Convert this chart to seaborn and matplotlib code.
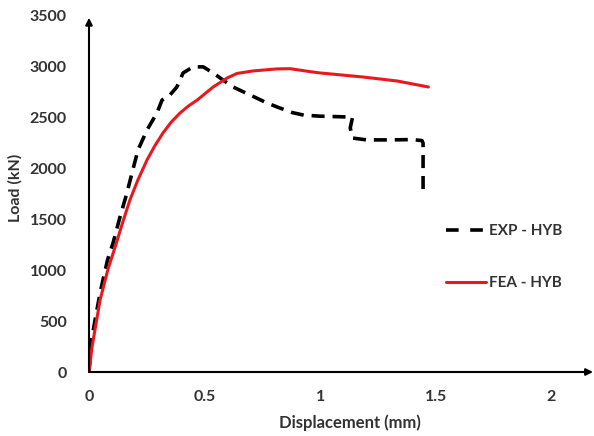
import numpy as np
import pandas as pd
import matplotlib
matplotlib.use("Agg")
import matplotlib.pyplot as plt
import seaborn as sns

# Data
exp_x = [0, 0.01, 0.03, 0.05, 0.08, 0.104, 0.134, 0.164, 0.186, 0.212, 0.251, 0.294,
         0.316, 0.35, 0.38, 0.407, 0.45, 0.494, 0.537, 0.58, 0.623, 0.70, 0.77, 0.82,
         0.88, 0.93, 1.0, 1.08, 1.14, 1.13, 1.14, 1.2, 1.3, 1.4, 1.44, 1.445, 1.445]
exp_y = [0, 300, 560, 800, 1100, 1268, 1524, 1760, 1957, 2183, 2380, 2547,
         2674, 2723, 2802, 2940, 3000, 3000, 2940, 2870, 2802, 2720, 2645, 2600,
         2550, 2525, 2515, 2510, 2505, 2400, 2300, 2282, 2282, 2285, 2275, 2250, 1790]
fea_x = [0, 0.013, 0.048, 0.082, 0.113, 0.147, 0.177, 0.21, 0.251, 0.285, 0.32, 0.355,
         0.394, 0.43, 0.468, 0.537, 0.597, 0.64, 0.71, 0.814, 0.87, 0.95, 1.0, 1.186,
         1.333, 1.468]
fea_y = [0, 245, 708, 1010, 1229, 1480, 1691, 1880, 2085, 2225, 2350, 2455,
         2547, 2615, 2674, 2802, 2890, 2935, 2960, 2980, 2982, 2955, 2940, 2900,
         2861, 2802]
x_ticks = [0, 0.5, 1, 1.5, 2]
x_tick_labels = ["0", "0.5", "1", "1.5", "2"]
y_ticks = [0, 500, 1000, 1500, 2000, 2500, 3000, 3500]
series_names = ["EXP - HYB", "FEA - HYB"]

sns.set_style("white")
plt.rcParams['font.family'] = ['Lato', 'DejaVu Sans']
txt_color = "#333333"

fig = plt.figure(figsize=(5.94, 4.36), dpi=100)
ax = fig.add_axes([89/594, 1-372/436, 504/594, 356/436])

exp_df = pd.DataFrame({"x": exp_x, "y": exp_y})
fea_df = pd.DataFrame({"x": fea_x, "y": fea_y})

sns.lineplot(data=exp_df, x="x", y="y", sort=False, estimator=None, ax=ax,
             color="black", lw=2.6, label=series_names[0], dashes=False)
ax.lines[-1].set_dashes((3.6, 2.2))
sns.lineplot(data=fea_df, x="x", y="y", sort=False, estimator=None, ax=ax,
             color="#e8191e", lw=2.2, label=series_names[1])

ax.set_xlim(0, 2.18)
ax.set_ylim(0, 3500)
ax.set_xticks(x_ticks)
ax.set_xticklabels(x_tick_labels)
ax.set_yticks(y_ticks)
for s in ax.spines.values():
    s.set_visible(False)
ax.tick_params(axis='both', length=0, labelsize=11.5, labelcolor=txt_color)
ax.tick_params(axis='x', pad=13)
ax.tick_params(axis='y', pad=16)
for lab in ax.get_xticklabels() + ax.get_yticklabels():
    lab.set_fontweight('bold')

ax.annotate('', xy=(1.0, 0), xytext=(0, 0), xycoords='axes fraction',
            arrowprops=dict(arrowstyle='-|>', color='black', lw=1.5,
                            shrinkA=0, shrinkB=0, mutation_scale=10))
ax.annotate('', xy=(0, 0.995), xytext=(0, 0), xycoords='axes fraction',
            arrowprops=dict(arrowstyle='-|>', color='black', lw=1.5,
                            shrinkA=0, shrinkB=0, mutation_scale=10))

ax.set_xlabel("Displacement (mm)", fontsize=12, fontweight='bold', color=txt_color,
              va='center')
ax.set_ylabel("Load (kN)", fontsize=11.5, fontweight='bold', color=txt_color,
              va='center')
ax.xaxis.set_label_coords((350-89)/504, -(423-372)/356)
ax.yaxis.set_label_coords(-(89-15)/504, (372-188)/356)

leg = ax.legend(loc='upper left', bbox_to_anchor=((446-89)/504, (372-224)/356),
                frameon=False, handlelength=2.6, handletextpad=0.2,
                labelspacing=2.5, borderpad=0, borderaxespad=0,
                prop={'size': 11, 'weight': 'bold'})
leg.get_lines()[0].set_dashes((3.5, 3.2))
for t in leg.get_texts():
    t.set_color(txt_color)

fig.savefig("out.png", dpi=100)
